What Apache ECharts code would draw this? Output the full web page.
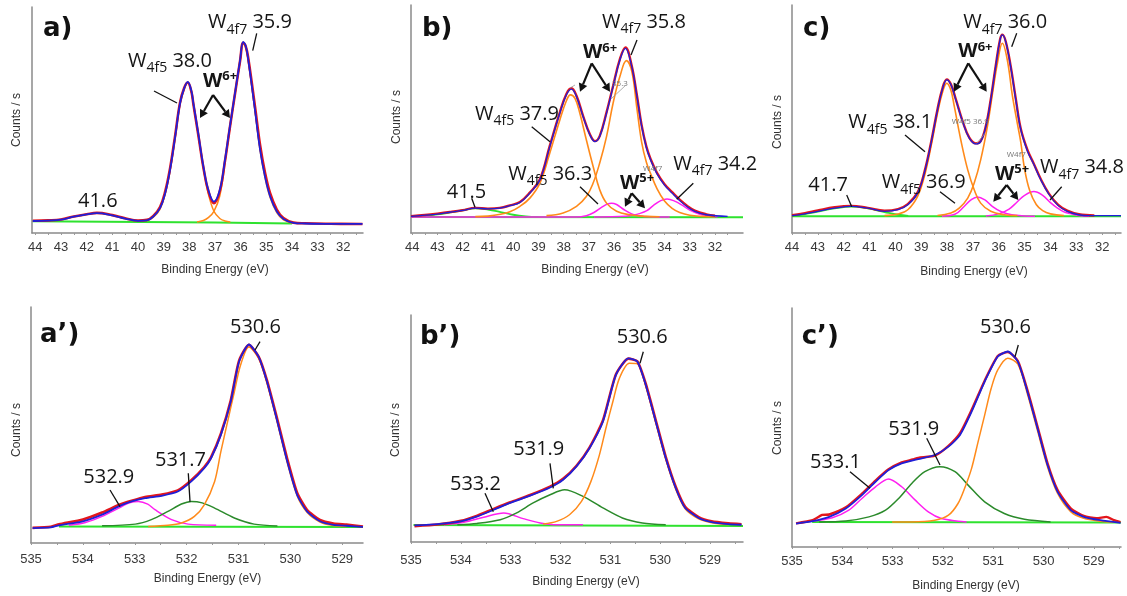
<!DOCTYPE html>
<html>
<head>
<meta charset="utf-8">
<title>XPS W4f / O1s</title>
<script src="https://cdn.jsdelivr.net/npm/echarts@6/dist/echarts.min.js"></script>
<style>
  html, body { margin: 0; padding: 0; background: #fff; }
  #main { width: 1127px; height: 596px; }
</style>
</head>
<body>
<div id="main"></div>
<script>
// tick labels
var TOP_TICKS = [44, 43, 42, 41, 40, 39, 38, 37, 36, 35, 34, 33, 32];
var TOP_MINOR = [44, 43.5, 43, 42.5, 42, 41.5, 41, 40.5, 40, 39.5, 39, 38.5, 38, 37.5, 37, 36.5, 36, 35.5, 35, 34.5, 34, 33.5, 33, 32.5, 32, 31.5];
var O1S_TICKS = [535, 534, 533, 532, 531, 530, 529];
var O1S_MINOR = [535, 534.5, 534, 533.5, 533, 532.5, 532, 531.5, 531, 530.5, 530, 529.5, 529, 528.5];

// ---- panel a) W4f ----
var aData = [[44.1,5.4],[43.5,5.6],[43,6.0],[42.5,7.3],[42,8.3],[41.6,8.9],[41,7.9],[40.5,6.5],[40,5.5],[39.65,5.8],[39.4,7.6],[39.14,11.5],[38.94,18.3],[38.75,28.6],[38.55,43.2],[38.36,57.8],[38.2,64.2],[38.06,66.6],[37.92,62.6],[37.84,57],[37.65,43.5],[37.45,29],[37.26,18.6],[37.04,13.2],[36.81,18.6],[36.61,31.8],[36.42,46.6],[36.22,61.5],[36.02,76.2],[35.9,84.2],[35.8,82.6],[35.7,77.2],[35.44,56],[35.24,38.8],[35.05,26.8],[34.85,17.6],[34.59,10.4],[34.33,6.6],[33.94,4.6],[33.5,4.3],[32.5,4.1],[31.25,4.0]];
var aFit = [[44.1,5.3],[43.5,5.5],[43,5.9],[42.5,7.2],[42,8.2],[41.6,8.8],[41,7.8],[40.5,6.4],[40,5.4],[39.65,5.6],[39.4,7.3],[39.14,11],[38.94,17.6],[38.75,27.9],[38.55,42.6],[38.36,57.4],[38.2,64],[38.06,66.9],[37.92,63],[37.84,57.4],[37.65,44.1],[37.45,29.4],[37.26,19.1],[37.04,13.9],[36.81,19.1],[36.61,32.3],[36.42,47],[36.22,61.8],[36.02,76.5],[35.9,84.6],[35.8,82.8],[35.7,76.5],[35.44,54.4],[35.24,36.8],[35.05,25],[34.85,16.2],[34.59,9.5],[34.33,6.2],[33.94,4.5],[33.5,4.2],[32.5,4.0],[31.25,4.0]];
var aW4f5 = [[39.65,5.4],[39.4,7.0],[39.14,10.6],[38.94,17.2],[38.75,27.5],[38.55,42.2],[38.36,57],[38.2,63.6],[38.06,66.5],[37.92,62.6],[37.84,57],[37.65,43.5],[37.45,28.5],[37.26,17.5],[37.04,9.6],[36.81,6.4],[36.61,5.3],[36.4,4.9]];
var aW4f7 = [[37.7,4.9],[37.45,5.5],[37.26,6.8],[37.04,9.6],[36.81,16.5],[36.61,31],[36.42,46.3],[36.22,61.3],[36.02,76],[35.9,84.2],[35.8,82],[35.7,76],[35.44,54],[35.24,36.3],[35.05,24.5],[34.85,15.7],[34.59,9],[34.33,5.8],[33.94,4.4]];
var aBg = [[44.1,5.2],[37,4.7],[34,4.2]];

// ---- panel b) W4f ----
var bData = [[44.05,7.4],[43.5,7.9],[43,8.5],[42.5,9.2],[42,10.0],[41.5,11.0],[41,10.7],[40.53,11],[40.13,12.1],[39.73,13.6],[39.34,17.7],[38.94,23.6],[38.55,38.2],[38.15,52.9],[37.89,61],[37.69,63.5],[37.49,60.2],[37.23,51.4],[36.96,43.3],[36.76,40.3],[36.57,42.5],[36.3,52.9],[36.04,64.5],[35.77,76.3],[35.55,81.4],[35.31,73.8],[35.11,61.4],[34.91,47.4],[34.72,37.9],[34.55,32.4],[34.3,26.4],[34.0,21.4],[33.7,17.9],[33.4,14.6],[33.1,11.9],[32.8,9.8],[32.34,8.2],[32.0,7.6]];
var bFit = [[44.05,7.3],[43.5,7.8],[43,8.3],[42.5,9.1],[42,9.9],[41.5,10.9],[41,10.6],[40.53,10.9],[40.13,12],[39.73,13.4],[39.34,17.5],[38.94,23.3],[38.55,37.9],[38.15,52.6],[37.89,60.6],[37.69,63.1],[37.49,59.8],[37.23,51.1],[36.96,43.1],[36.76,40.1],[36.57,42.3],[36.3,52.6],[36.04,64.2],[35.77,75.9],[35.55,81],[35.31,73.5],[35.11,61],[34.91,47],[34.72,37.5],[34.55,32],[34.3,26],[34.0,21],[33.7,17.5],[33.4,14.2],[33.1,11.5],[32.8,9.5],[32.34,8],[31.5,7.3]];
var bW4f5 = [[41.5,7.2],[41,7.4],[40.5,8.2],[40.13,9.3],[39.73,11.7],[39.34,15.3],[38.94,21.9],[38.55,35],[38.15,49.6],[37.89,58],[37.73,60.6],[37.55,59],[37.36,52.6],[37.1,40.9],[36.83,29.2],[36.57,19],[36.3,13.1],[35.9,9.5],[35.38,8],[34.72,7.3],[34.2,7.1]];
var bW4f7 = [[38.68,7.6],[38.02,8.8],[37.49,11.7],[37.1,16],[36.83,21.9],[36.57,30.7],[36.3,42.3],[36.04,56.9],[35.77,68.6],[35.51,75.6],[35.3,71],[35.1,55],[34.91,40],[34.72,31],[34.55,26],[34.3,19.5],[34.0,14],[33.7,10.8],[33.4,9.0],[33.0,7.8],[32.5,7.3],[32.0,7.1]];
var bW5f5 = [[44.05,7.0],[37.5,7.0],[37.1,7.6],[36.8,9.0],[36.5,11.2],[36.25,12.8],[36.1,13.1],[35.9,12.5],[35.6,10.2],[35.3,8.4],[35.0,7.5],[34.6,7.1],[33.8,7.0]];
var bW5f7 = [[36.8,7.0],[36.2,7.1],[35.55,7.4],[35.3,7.8],[35.0,8.5],[34.7,9.8],[34.45,12],[34.15,14.2],[33.9,14.9],[33.6,14],[33.3,12.2],[33.0,10],[32.6,8.2],[32.2,7.3],[31.9,7.1]];
var bOx = [[44.05,7.1],[43.5,7.6],[43,8.2],[42.5,9.0],[42,9.9],[41.5,10.8],[41,10.3],[40.5,9.2],[40,8.0],[39.5,7.3],[39,7.0]];
var bBg = [[44.05,7.0],[30.89,6.9]];

// ---- panel c) W4f ----
var cData = [[44,7.8],[43.5,8.7],[43,9.9],[42.35,11.3],[41.71,11.9],[41.07,11.0],[40.42,9.8],[39.9,10.5],[39.52,12.7],[39.14,17.8],[38.88,26.6],[38.62,39.7],[38.37,54.3],[38.17,63.8],[38.01,67.4],[37.85,65.2],[37.66,58.6],[37.4,49.1],[37.14,41.8],[36.89,39.3],[36.7,40.3],[36.5,46.9],[36.31,58.6],[36.12,73.2],[35.95,84.9],[35.86,87],[35.73,84],[35.54,73.3],[35.34,58.8],[35.15,45.8],[34.89,36.4],[34.64,30.3],[34.38,23.8],[34.06,17.3],[33.7,12.3],[33.35,9.8],[32.9,8.2],[32.3,7.7]];
var cFit = [[44,7.6],[43.5,8.4],[43,9.5],[42.35,10.9],[41.71,11.7],[41.07,10.9],[40.42,9.5],[39.9,10.2],[39.52,12.4],[39.14,17.5],[38.88,26.3],[38.62,39.4],[38.37,54],[38.17,63.5],[38.01,67.2],[37.85,65],[37.66,58.4],[37.4,48.9],[37.14,41.6],[36.89,39.1],[36.7,40.1],[36.5,46.7],[36.31,58.4],[36.12,73],[35.95,84.7],[35.86,86.9],[35.73,83.9],[35.54,73],[35.34,58.4],[35.15,45.5],[34.89,36],[34.64,30],[34.38,23.5],[34.06,17],[33.7,12],[33.35,9.5],[32.9,8],[32.5,7.6],[31.27,7.6]];
var cW4f5 = [[40.42,7.6],[39.9,8.3],[39.52,10.2],[39.14,16.1],[38.88,24.8],[38.62,38],[38.37,52.6],[38.17,62],[38.01,65.7],[37.85,62.5],[37.72,55.5],[37.47,40.9],[37.2,27.7],[36.95,19],[36.7,13.1],[36.31,9.5],[35.79,8],[35.28,7.6]];
var cW4f7 = [[38.37,7.7],[37.85,8.8],[37.53,10.9],[37.2,15.3],[36.95,21.9],[36.7,32.1],[36.44,46.7],[36.24,61.3],[36.05,74.5],[35.86,83.2],[35.67,75.9],[35.47,60],[35.28,48],[35.15,40],[35,28],[34.8,18.5],[34.55,12.5],[34.3,9.8],[34,8.4],[33.48,7.6]];
var cW5f5 = [[38.2,7.4],[37.7,8.2],[37.34,11.6],[37.1,14.3],[36.82,15.8],[36.55,14.6],[36.24,11.6],[35.9,9.3],[35.5,8],[35,7.5],[34.6,7.4]];
var cW5f7 = [[36.5,7.5],[36,8.4],[35.6,10.5],[35.3,13.5],[35,16.5],[34.64,18.2],[34.3,16.5],[34,13.3],[33.74,11],[33.5,9.4],[33.23,8.5],[32.9,7.7],[32.5,7.4]];
var cOx = [[44,7.5],[43.5,8.3],[43,9.4],[42.35,10.8],[41.71,11.6],[41.07,10.8],[40.42,9.2],[39.9,8],[39.5,7.5]];
var cBg = [[44,7.4],[31.27,7.4]];

// ---- panel a') O1s ----
var apData = [[534.97,6.4],[534.62,6.9],[534.46,7.9],[534,10],[533.63,12.9],[533.31,16.1],[533.06,17.9],[532.8,19.5],[532.48,20.5],[532.17,22.3],[531.91,26.6],[531.66,32.2],[531.53,36.3],[531.34,46.3],[531.15,60.4],[530.99,77.2],[530.8,84],[530.61,78.9],[530.45,68.8],[530.25,52.2],[530.06,35.6],[529.87,21.3],[529.68,14.1],[529.43,9.8],[529.17,8.3],[528.92,7.8],[528.6,7.0]];
var apFit = [[534.97,6.3],[534.62,6.6],[534.46,7.5],[534,9.2],[533.63,12],[533.31,15.5],[533.06,17.6],[532.8,19],[532.48,20],[532.17,21.8],[531.91,26.1],[531.66,31.7],[531.53,35.9],[531.34,45.8],[531.15,59.9],[530.99,76.8],[530.8,84.1],[530.61,78.9],[530.45,68.3],[530.25,51.4],[530.06,34.5],[529.87,20.4],[529.68,13.4],[529.43,9.2],[529.17,7.7],[528.92,7.3],[528.6,6.8]];
var apO = [[532.74,7.0],[532.36,7.5],[532.1,8.5],[531.85,11.3],[531.66,16.2],[531.46,26.1],[531.34,38.7],[531.21,51.4],[531.08,64.1],[530.96,75.4],[530.8,83.1],[530.61,78.2],[530.45,67.6],[530.25,50.8],[530.06,34],[529.87,20],[529.68,13],[529.43,8.9],[529.17,7.4],[528.92,7.0]];
var apG = [[533.63,7.3],[532.99,8],[532.68,9.9],[532.36,13.4],[532.1,16.5],[531.91,17.6],[531.7,17],[531.46,14.8],[531.08,10.6],[530.7,8],[530.25,7.2]];
var apM = [[534.27,7.5],[533.95,8.7],[533.63,11.3],[533.31,14.8],[533.1,17],[532.93,17.6],[532.75,16.5],[532.61,14.1],[532.29,9.9],[531.97,8],[531.43,7.5]];
var apBg = [[534.46,7.0],[528.6,6.8]];

// ---- panel b') O1s ----
var bpData = [[534.93,7.0],[534.47,7.7],[534,9.3],[533.67,11.6],[533.34,14.6],[533.01,17.5],[532.61,20.7],[532.21,24.4],[531.95,27.8],[531.68,33.6],[531.42,41.6],[531.15,53.5],[530.89,73.8],[530.64,80.8],[530.46,79.6],[530.29,69.6],[530.09,53.6],[529.89,37.5],[529.69,24.3],[529.5,15.5],[529.23,11.0],[528.97,9.1],[528.63,8.2],[528.37,7.8]];
var bpFit = [[534.93,7.3],[534.47,7.9],[534,9.1],[533.67,11.3],[533.34,14.2],[533.01,17.2],[532.61,20.4],[532.21,24],[531.95,27.4],[531.68,33.3],[531.42,41.3],[531.15,53.1],[530.89,73.6],[530.64,80.9],[530.46,79.5],[530.29,69.2],[530.09,53.1],[529.89,37],[529.69,23.8],[529.5,15],[529.23,10.6],[528.97,8.8],[528.63,7.9],[528.37,7.6]];
var bpO = [[532.35,7.9],[532.08,9.1],[531.82,12],[531.58,17.9],[531.39,26.7],[531.22,38.4],[531.09,50.1],[530.95,61.9],[530.82,72.1],[530.62,78.7],[530.46,78.5],[530.29,68.6],[530.09,52.5],[529.89,36.4],[529.69,23.3],[529.5,14.6],[529.23,10.2],[528.97,8.5],[528.63,7.7]];
var bpG = [[534.07,7.6],[533.67,8.2],[533.21,9.8],[532.88,12.8],[532.55,17.2],[532.21,20.8],[531.92,23],[531.55,20.1],[531.15,15],[530.76,10.6],[530.36,8.4],[529.89,7.6]];
var bpM = [[534.34,7.6],[533.94,8.7],[533.54,10.9],[533.14,12.8],[532.75,10.3],[532.41,8.4],[532.08,7.6],[531.55,7.6]];
var bpBg = [[534.95,7.5],[528.34,7.0]];

// ---- panel c') O1s ----
var cpData = [[534.92,9.9],[534.59,11.2],[534.4,13.4],[534.26,13.6],[533.93,16.6],[533.61,22.3],[533.34,27.8],[533.08,32.5],[532.82,35.4],[532.6,36.6],[532.49,37.3],[532.16,38.2],[531.89,42.3],[531.66,47.6],[531.43,57.3],[531.17,69.6],[530.91,79.9],[530.71,81.6],[530.51,77.8],[530.32,65.6],[530.12,50.4],[529.92,35.0],[529.72,23.8],[529.46,16.2],[529.2,13.0],[528.95,12.0],[528.75,12.6],[528.6,11.2],[528.47,10.4]];
var cpFit = [[534.92,9.8],[534.59,10.8],[534.26,12.6],[533.93,16.1],[533.61,21.7],[533.34,27.3],[533.08,32.2],[532.82,35],[532.49,36.8],[532.16,38.5],[531.89,42],[531.66,46.9],[531.43,56.6],[531.17,69.2],[530.91,79.7],[530.71,81.8],[530.51,77.6],[530.32,65],[530.12,49.7],[529.92,34.3],[529.72,23.1],[529.46,15.4],[529.2,12.6],[528.87,11.2],[528.47,10.1]];
var cpO = [[533.01,10.5],[532.62,10.5],[532.16,11.2],[531.89,13.3],[531.7,18.2],[531.57,24.5],[531.43,32.9],[531.3,44.1],[531.17,55.2],[531.04,66.4],[530.91,74.1],[530.71,79],[530.51,76.5],[530.32,64],[530.12,48.7],[529.92,33.5],[529.72,22.4],[529.46,14.8],[529.2,12],[528.87,10.8],[528.6,10.4]];
var cpG = [[534.46,10.5],[533.93,10.9],[533.47,12.6],[533.14,15.4],[532.88,20.3],[532.62,26.6],[532.36,31.5],[532.06,33.6],[531.76,31.5],[531.5,25.9],[531.17,18.9],[530.78,14],[530.38,11.6],[529.86,10.5]];
var cpM = [[534.59,10.8],[534.2,12.2],[533.87,15.4],[533.61,20.3],[533.34,25.2],[533.08,28.4],[532.82,25.2],[532.55,19.6],[532.29,14.7],[532.03,11.9],[531.7,10.8],[531.53,10.5]];
var cpBg = [[534.6,10.5],[528.46,10.3]];

var RED = '#e3161c', BLUE = '#1f1fd8', ORANGE = '#ff8a1a', MAGENTA = '#ff1ff0',
    LIME = '#2fe22f', DGREEN = '#2b8a2b';

// panel layouts (pixels) and axis ranges
var panels = [
  { left: 32,  top: 7,   width: 331, height: 226, min: 31.23,  max: 44.13,  ticks: TOP_TICKS, minor: TOP_MINOR, margin: 8 },
  { left: 411, top: 5,   width: 332, height: 228, min: 30.89,  max: 44.05,  ticks: TOP_TICKS, minor: TOP_MINOR, margin: 8 },
  { left: 792, top: 5,   width: 329, height: 228, min: 31.27,  max: 44.0,   ticks: TOP_TICKS, minor: TOP_MINOR, margin: 8 },
  { left: 31,  top: 307, width: 332, height: 236, min: 528.6,  max: 535.0,  ticks: O1S_TICKS, minor: O1S_MINOR, margin: 10 },
  { left: 411, top: 315, width: 332, height: 227, min: 528.34, max: 535.0,  ticks: O1S_TICKS, minor: O1S_MINOR, margin: 12 },
  { left: 792, top: 308, width: 329, height: 239, min: 528.46, max: 535.0,  ticks: O1S_TICKS, minor: O1S_MINOR, margin: 8 }
];

// curves of each panel: [data, colour, width, smooth]
var curves = [
  [[aBg, LIME, 2, 0], [aW4f5, ORANGE, 1.5, 0.4], [aW4f7, ORANGE, 1.5, 0.4], [aData, RED, 2.6, 0.4], [aFit, BLUE, 1.8, 0.4]],
  [[bBg, LIME, 2, 0], [bOx, LIME, 1.8, 0.4], [bW5f5, MAGENTA, 1.5, 0.4], [bW5f7, MAGENTA, 1.5, 0.4], [bW4f5, ORANGE, 1.6, 0.4], [bW4f7, ORANGE, 1.6, 0.4], [bData, RED, 2.4, 0.4], [bFit, BLUE, 1.3, 0.4]],
  [[cBg, LIME, 2, 0], [cOx, LIME, 1.8, 0.4], [cW5f5, MAGENTA, 1.5, 0.4], [cW5f7, MAGENTA, 1.5, 0.4], [cW4f5, ORANGE, 1.6, 0.4], [cW4f7, ORANGE, 1.6, 0.4], [cData, RED, 2.4, 0.4], [cFit, BLUE, 1.3, 0.4]],
  [[apBg, LIME, 2, 0], [apM, MAGENTA, 1.5, 0.3], [apG, DGREEN, 1.5, 0.3], [apO, ORANGE, 1.5, 0.3], [apData, RED, 2.6, 0.2], [apFit, BLUE, 1.8, 0.2]],
  [[bpBg, LIME, 2, 0], [bpM, MAGENTA, 1.5, 0.3], [bpG, DGREEN, 1.5, 0.3], [bpO, ORANGE, 1.5, 0.3], [bpData, RED, 2.6, 0.2], [bpFit, BLUE, 1.8, 0.2]],
  [[cpBg, LIME, 2, 0], [cpM, MAGENTA, 1.5, 0.3], [cpG, DGREEN, 1.5, 0.3], [cpO, ORANGE, 1.5, 0.3], [cpData, RED, 2.4, 0.2], [cpFit, BLUE, 1.8, 0.2]]
];

var grids = [], xAxes = [], yAxes = [], series = [];
panels.forEach(function (p, i) {
  grids.push({ left: p.left, top: p.top, width: p.width, height: p.height, outerBoundsMode: 'none' });
  xAxes.push({
    type: 'value', gridIndex: i, inverse: true, min: p.min, max: p.max,
    axisLine: { onZero: false, lineStyle: { color: '#8a8a8a', width: 1.5 } },
    axisTick: { show: true, customValues: p.minor, length: 2, lineStyle: { color: '#9a9a9a' } },
    axisLabel: { customValues: p.ticks, margin: p.margin, color: '#383838', fontSize: 13, fontFamily: 'Liberation Sans' },
    splitLine: { show: false }
  });
  yAxes.push({
    type: 'value', gridIndex: i, min: 0, max: 100,
    axisLine: { show: true, onZero: false, lineStyle: { color: '#8a8a8a', width: 1.5 } },
    axisTick: { show: false }, axisLabel: { show: false }, splitLine: { show: false }
  });
  curves[i].forEach(function (c, k) {
    series.push({
      type: 'line', xAxisIndex: i, yAxisIndex: i, data: c[0], symbol: 'none', smooth: c[3],
      lineStyle: { color: c[1], width: c[2] }, z: 2 + k, silent: true, animation: false
    });
  });
});

// ---- annotations ----
var FONT = '"Open Sans"';
var meas = document.createElement('canvas').getContext('2d');
var g = [];

function words(x, base, parts, color) {
  var cx = x;
  parts.forEach(function (p) {
    var font = (p.w || 'normal') + ' ' + p.s + 'px ' + (p.f || FONT);
    meas.font = font;
    g.push({ type: 'text', silent: true, z: 100,
      style: { text: p.t, x: cx, y: base + (p.dy || 0) - 0.38 * p.s, font: font, fill: color || '#151515',
               align: 'left', verticalAlign: 'middle' } });
    cx += meas.measureText(p.t).width;
  });
}
function wLabel(x, base, sub, num) {
  words(x, base, [{ t: 'W', s: 20 }, { t: sub, s: 14, dy: 5 }, { t: ' ' + num, s: 20 }]);
}
function wOx(x, base, ox) {
  words(x, base, [{ t: 'W', s: 20, w: 'bold' }, { t: ox, s: 13, w: 'bold', dy: -7 }]);
}
function num(x, base, t) { words(x, base, [{ t: t, s: 20 }]); }
function small(x, base, t) { words(x, base, [{ t: t, s: 8 }], '#777'); }
function letter(x, base, t) { words(x, base, [{ t: t, s: 26, w: 'bold', f: '"DejaVu Sans"' }], '#111'); }
function seg(x1, y1, x2, y2, col, w) {
  g.push({ type: 'line', silent: true, z: 100, shape: { x1: x1, y1: y1, x2: x2, y2: y2 },
           style: { stroke: col || '#111', lineWidth: w || 1.3 } });
}
function arrow(x1, y1, x2, y2) {
  var a = Math.atan2(y2 - y1, x2 - x1), L = 8, W = 4.5;
  var bx = x2 - L * Math.cos(a), by = y2 - L * Math.sin(a);
  seg(x1, y1, bx, by, '#111', 2.2);
  g.push({ type: 'polygon', silent: true, z: 100,
    shape: { points: [[x2, y2], [bx + W * Math.sin(a), by - W * Math.cos(a)], [bx - W * Math.sin(a), by + W * Math.cos(a)]] },
    style: { fill: '#111' } });
}
function axisNames(cx, cy, bx, by) {
  g.push({ type: 'text', silent: true, x: cx, y: cy, rotation: Math.PI / 2,
    style: { text: 'Counts / s', x: 0, y: 0, font: '12px "Liberation Sans"', fill: '#333', align: 'center', verticalAlign: 'middle' } });
  g.push({ type: 'text', silent: true,
    style: { text: 'Binding Energy (eV)', x: bx, y: by, font: '12px "Liberation Sans"', fill: '#333', align: 'center', verticalAlign: 'middle' } });
}

// a)
letter(43, 39, 'a)');
wLabel(128, 68.5, '4f5', '38.0'); seg(154, 91, 177, 103);
wLabel(208, 30, '4f7', '35.9'); seg(256.7, 33.3, 252.7, 50.7);
wOx(203, 88.5, '6+'); arrow(213, 95, 200, 118); arrow(213, 95, 230, 118);
num(78, 208.5, '41.6');
axisNames(16.5, 120, 215, 270);

// b)
letter(422, 39, 'b)');
wLabel(602, 29.5, '4f7', '35.8'); seg(637, 40, 631, 55);
wOx(583, 60, '6+'); arrow(591.7, 63.3, 580, 91.7); arrow(591.7, 63.3, 610, 91.7);
small(612, 87, '35.3'); seg(611, 99, 626, 85, '#999', 0.8); seg(570, 88, 575, 85, '#999', 0.8);
wLabel(475, 121.7, '4f5', '37.9'); seg(531.7, 126.7, 550, 141.7);
wLabel(508.3, 181.7, '4f5', '36.3'); seg(580, 186.7, 598, 204);
wOx(620, 190.5, '5+'); arrow(631.7, 193.3, 625, 206.7); arrow(631.7, 193.3, 645, 208.3);
small(643, 172, 'W4f7');
wLabel(673.3, 171.7, '4f7', '34.2'); seg(693.3, 183.3, 676.7, 199.3);
num(446.7, 200, '41.5'); seg(471.7, 198.3, 475, 207.3);
axisNames(396.5, 117, 595, 270);

// c)
letter(803, 39, 'c)');
wLabel(963.3, 30, '4f7', '36.0'); seg(1016.7, 33.3, 1011.7, 46.7);
wOx(958.3, 59.3, '6+'); arrow(968.3, 63.3, 954, 91.7); arrow(968.3, 63.3, 986.7, 91.7);
wLabel(848.3, 130, '4f5', '38.1'); seg(905, 135, 925, 151.7);
small(951.7, 125, 'W4f5 36.9'); seg(976.7, 143.3, 985, 133.3, '#999', 0.8);
wLabel(881.7, 190, '4f5', '36.9'); seg(940, 191.7, 955, 203.3);
wOx(995, 181.5, '5+'); arrow(1006.7, 185, 993.3, 201.7); arrow(1006.7, 185, 1018.3, 200);
small(1006.7, 158, 'W4f7');
wLabel(1040, 175, '4f7', '34.8'); seg(1061.7, 186.7, 1050, 200);
num(808.3, 193.3, '41.7'); seg(846.7, 195, 851.7, 206.7);
axisNames(777.5, 122, 974, 271.5);

// a')
letter(40, 345, 'a\u2019)');
num(230, 335, '530.6'); seg(260, 341.7, 255, 350);
num(155, 468.3, '531.7'); seg(188.3, 473.3, 190, 501.7);
num(83.3, 485, '532.9'); seg(110, 490, 120, 506.7);
axisNames(16.5, 430, 207.5, 578.5);

// b')
letter(420, 346.7, 'b\u2019)');
num(616.7, 345, '530.6'); seg(643.3, 351.7, 640, 363.3);
num(513.3, 456.7, '531.9'); seg(550, 463.3, 553.3, 488.3);
num(450, 491.7, '533.2'); seg(485, 493.3, 493.3, 511.7);
axisNames(396, 430, 586, 581.5);

// c')
letter(801.7, 346.7, 'c\u2019)');
num(980, 335, '530.6'); seg(1018.3, 345, 1015, 356.7);
num(888.3, 436.7, '531.9'); seg(926.7, 438.3, 940, 465);
num(810, 470, '533.1'); seg(850, 471.7, 870, 488.3);
axisNames(777.5, 428, 966, 586);

var chart = echarts.init(document.getElementById('main'), null, { renderer: 'canvas' });
chart.setOption({
  animation: false,
  backgroundColor: '#ffffff',
  grid: grids,
  xAxis: xAxes,
  yAxis: yAxes,
  series: series,
  graphic: { elements: g }
});
</script>
</body>
</html>
